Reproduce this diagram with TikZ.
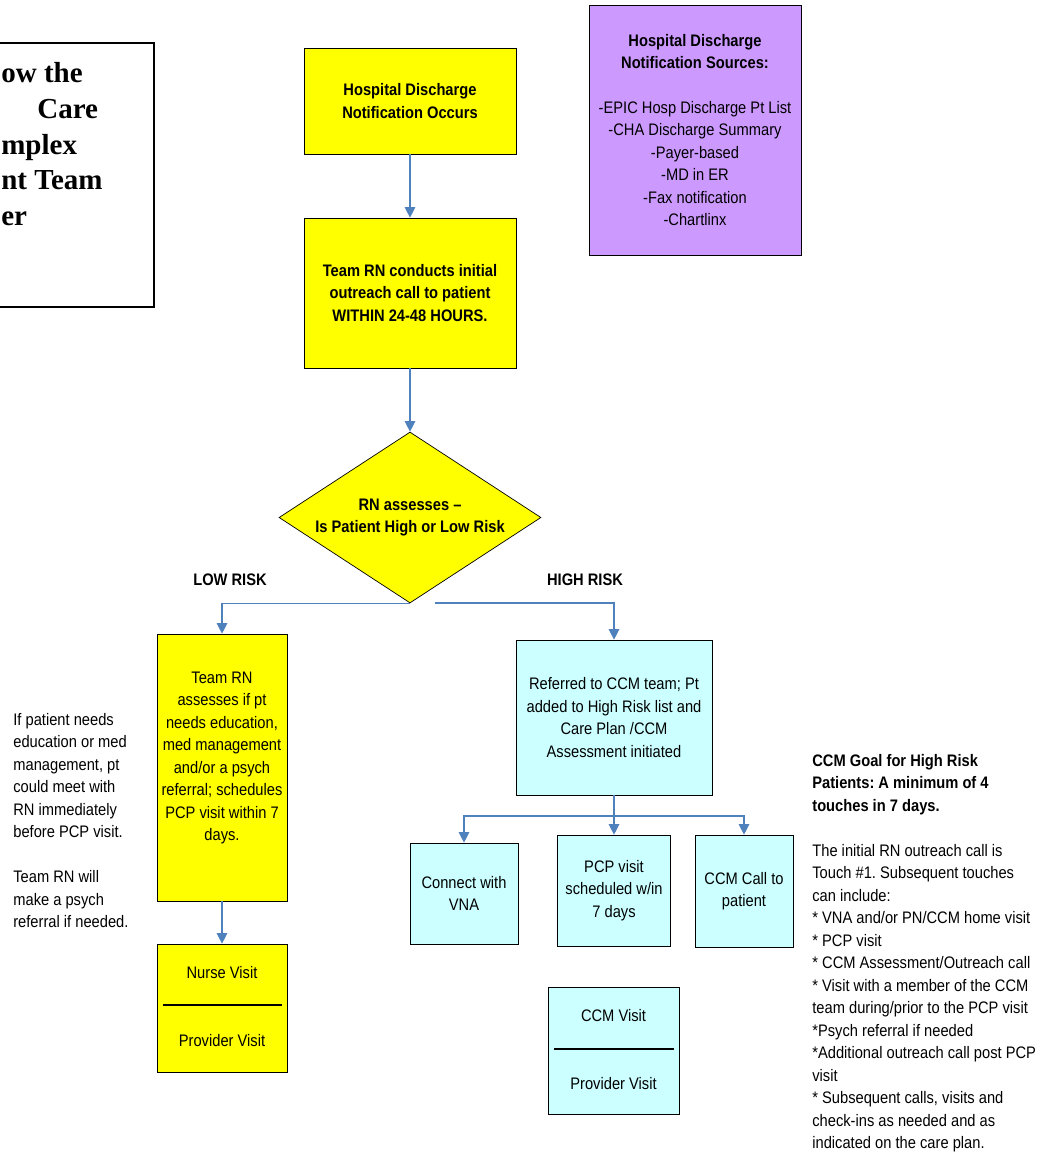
\documentclass[tikz,border=0pt]{standalone}
\usepackage{fontspec}
\setmainfont{Liberation Sans}[FakeStretch=0.88]
\newfontfamily\titlefont{Liberation Serif}
\usepackage{tikz}
\usetikzlibrary{shapes.geometric, arrows.meta, positioning}
\definecolor{boxyellow}{HTML}{FFFF00}
\definecolor{boxcyan}{HTML}{CCFFFF}
\definecolor{boxpurple}{HTML}{CC99FF}
\definecolor{linkblue}{HTML}{4F81BD}
\frenchspacing

\begin{document}
\begin{tikzpicture}[x=0.02cm, y=-0.02cm,
		font=\fontsize{9.5}{12.8}\selectfont,
		yellowbox/.style={draw, fill=boxyellow, align=center, inner sep=2pt},
		cyanbox/.style={draw, fill=boxcyan, align=center, inner sep=2pt},
		link/.style={draw=linkblue, line width=0.7pt, -{Triangle[width=6pt, length=6pt]}},
		note/.style={align=left, inner sep=0pt}]
		\useasboundingbox (0,0) rectangle (1041,1162);
		
		% titel links (abgeschnitten)
		\draw[line width=0.8pt] (-10,43) rectangle (154,307);
		\node[anchor=north west, align=left, inner sep=0pt, font=\titlefont\fontsize{16.5}{20.4}\selectfont\bfseries] (title) at (1,62)
		{ow the\\\hspace*{0.72cm}Care\\mplex\\nt Team\\er};
		
		% Hauptkette
		\node[yellowbox, minimum width=4.24cm, minimum height=2.12cm, font=\fontsize{9.5}{12.8}\selectfont\bfseries] (notify) at (410,101)
		{Hospital Discharge\\Notification Occurs};
		\node[yellowbox, minimum width=4.24cm, minimum height=3cm, font=\fontsize{9.5}{12.8}\selectfont\bfseries] (outreach) at (410,293)
		{Team RN conducts initial\\outreach call to patient\\WITHIN 24-48 HOURS.};
		\node[diamond, draw, fill=boxyellow, aspect=1.53, minimum width=5.24cm, minimum height=3.42cm, inner sep=0pt, align=center, font=\fontsize{9.5}{12.8}\selectfont\bfseries] (assess) at (410,517.5)
		{RN assesses --\\Is Patient High or Low Risk};
		
		% Quellen
		\node[draw, fill=boxpurple, minimum width=4.24cm, minimum height=5cm, align=center, inner sep=2pt] (sources) at (695,130)
		{\textbf{Hospital Discharge}\\\textbf{Notification Sources:}\\[12.8pt]
			-EPIC Hosp Discharge Pt List\\-CHA Discharge Summary\\-Payer-based\\-MD in ER\\-Fax notification\\-Chartlinx};
		
		% Zweige
		\node[font=\fontsize{9.5}{12.8}\selectfont\bfseries] (lowlab) at (230,580) {LOW RISK};
		\node[font=\fontsize{9.5}{12.8}\selectfont\bfseries] (highlab) at (585,580) {HIGH RISK};
		
		\node[yellowbox, minimum width=2.6cm, minimum height=5.34cm] (lowrisk) at (222,767.5)
		{Team RN\\assesses if pt\\needs education,\\med management\\and/or a psych\\referral; schedules\\PCP visit within 7\\days.\\[0pt]};
		\node[yellowbox, minimum width=2.6cm, minimum height=2.56cm] (nurse) at (222,1008) {};
		\node (nursetxt) at (222,973) {Nurse Visit};
		\node (provtxt) at (222,1041) {Provider Visit};
		
		\node[cyanbox, minimum width=3.92cm, minimum height=3.1cm] (ccm) at (614,717.5)
		{Referred to CCM team; Pt\\added to High Risk list and\\Care Plan /CCM\\Assessment initiated};
		\node[cyanbox, minimum width=2.16cm, minimum height=2.02cm] (vna) at (464,893.5)
		{Connect with\\VNA};
		\node[cyanbox, minimum width=2.26cm, minimum height=2.22cm] (pcp) at (614,890.5)
		{PCP visit\\scheduled w/in\\7 days};
		\node[cyanbox, minimum width=1.96cm, minimum height=2.24cm] (call) at (744,891)
		{CCM Call to\\patient};
		\node[cyanbox, minimum width=2.62cm, minimum height=2.54cm] (visit) at (613.5,1050.5) {};
		\node (visittxt) at (613.5,1016) {CCM Visit};
		\node (visitprov) at (613.5,1084) {Provider Visit};
		
		% Trennlinien
		\draw[line width=0.6pt] (163,1005) -- (282,1005);
		\draw[line width=0.6pt] (554,1049) -- (674,1049);
		
		% Hinweise
		\node[note, anchor=north west] (lownote) at (13,713)
		{If patient needs\\education or med\\management, pt\\could meet with\\RN immediately\\before PCP visit.\\[12.8pt]
			Team RN will\\make a psych\\referral if needed.};
		\node[note, anchor=north west] (goal) at (812,754)
		{\textbf{CCM Goal for High Risk}\\\textbf{Patients: A minimum of 4}\\\textbf{touches in 7 days.}\\[12.8pt]
			The initial RN outreach call is\\Touch \#1. Subsequent touches\\can include:\\
			* VNA and/or PN/CCM home visit\\* PCP visit\\* CCM Assessment/Outreach call\\
			* Visit with a member of the CCM\\team during/prior to the PCP visit\\
			*Psych referral if needed\\*Additional outreach call post PCP\\visit\\
			* Subsequent calls, visits and\\check-ins as needed and as\\indicated on the care plan.};
		
		% Pfeile
		\draw[link] (notify) -- (outreach);
		\draw[link] (outreach) -- (assess);
		\draw[link] (assess.south) -| (lowrisk.north);
		\coordinate (hstart) at (435,603);
		\draw[link] (hstart) -| (ccm.north);
		\draw[link] (lowrisk) -- (nurse);
		\draw[link] (ccm.south) -- (pcp.north);
		\coordinate (split) at (614,816);
		\draw[link] (split) -| (vna.north);
		\draw[link] (split) -| (call.north);
	\end{tikzpicture}
\end{document}
